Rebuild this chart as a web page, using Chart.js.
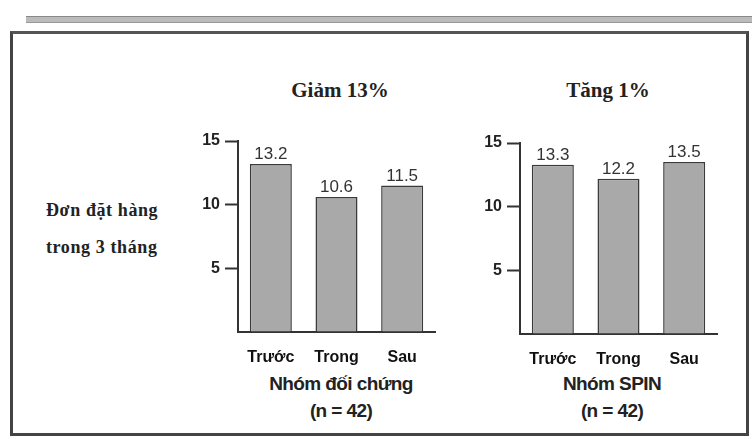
<!DOCTYPE html>
<html lang="vi">
<head>
<meta charset="UTF-8">
<title>Đơn đặt hàng trong 3 tháng</title>
<script src="https://cdn.jsdelivr.net/npm/chart.js"></script>
<style>
  html, body { margin: 0; padding: 0; background: #fff; }
  body { width: 752px; height: 439px; position: relative; overflow: hidden; font-family: "Liberation Serif", serif; color: #222; }
  .stripe { position: absolute; left: 26px; top: 16px; width: 726px; height: 5px; background: #bbb; border-top: 1px solid #888; border-bottom: 1px solid #999; }
  .frame { position: absolute; left: 10px; top: 31px; width: 733px; height: 399px; border: 3px solid #444; border-top-color: #555; }
  .txt { position: absolute; white-space: nowrap; transform: translate(-50%, -50%); }
  .title { font: bold 21px "Liberation Serif", serif; }
  .ylab { font: bold 18px "Liberation Serif", serif; transform: translateY(-50%); letter-spacing: 0.6px; }
  .grp { font: bold 19px "Liberation Sans Narrow", "Liberation Sans", sans-serif; letter-spacing: -0.6px; }
  canvas { position: absolute; }
</style>
</head>
<body>
<div class="stripe"></div>
<div class="frame"></div>

<div class="txt title" style="left:340px; top:90px;">Giảm 13%</div>
<div class="txt title" style="left:608px; top:90px;">Tăng 1%</div>

<div class="txt ylab" style="left:46px; top:210px;">Đơn đặt hàng</div>
<div class="txt ylab" style="left:46px; top:247px;">trong 3 tháng</div>

<div class="txt grp" style="left:341px; top:384px;">Nhóm đối chứng</div>
<div class="txt grp" style="left:341px; top:411px;">(n = 42)</div>
<div class="txt grp" style="left:612px; top:384px;">Nhóm SPIN</div>
<div class="txt grp" style="left:612px; top:411px;">(n = 42)</div>

<canvas id="chartLeft" width="265" height="260" style="left:184px; top:121px;"></canvas>
<canvas id="chartRight" width="265" height="260" style="left:466px; top:123px;"></canvas>

<script>
// data
const periods = ['Trước', 'Trong', 'Sau'];
const controlGroup = [13.2, 10.6, 11.5];
const spinGroup = [13.3, 12.2, 13.5];
const yTicks = [5, 10, 15];

// value above each bar
const barValues = {
    id: 'barValues',
    afterDatasetsDraw(chart) {
        const ctx = chart.ctx;
        const meta = chart.getDatasetMeta(0);
        ctx.save();
        ctx.font = '17px "Liberation Sans", sans-serif';
        ctx.fillStyle = '#333';
        ctx.textAlign = 'center';
        ctx.textBaseline = 'bottom';
        meta.data.forEach((bar, i) => {
            const v = chart.data.datasets[0].data[i];
            ctx.fillText(v.toFixed(1), bar.x, bar.y - 1);
        });
        ctx.restore();
    }
};

function makeChart(id, values) {
    return new Chart(document.getElementById(id), {
        type: 'bar',
        data: {
            labels: periods,
            datasets: [{
                data: values,
                backgroundColor: '#a9a9a9',
                borderColor: '#3a3a3a',
                borderWidth: 1.5,
                borderSkipped: 'bottom',
                categoryPercentage: 1,
                barPercentage: 0.64
            }]
        },
        options: {
            responsive: false,
            animation: false,
            layout: { padding: { top: 20, right: 14, left: 0, bottom: 0 } },
            plugins: { legend: { display: false }, tooltip: { enabled: false } },
            scales: {
                x: {
                    afterFit(scale) { scale.height = 49; },
                    grid: { display: false },
                    border: { color: '#333', width: 2 },
                    ticks: {
                        padding: 8,
                        color: '#111',
                        font: { family: '"Liberation Sans Narrow", "Liberation Sans", sans-serif', weight: 'bold', size: 16 }
                    }
                },
                y: {
                    min: 0,
                    max: 15,
                    afterFit(scale) { scale.width = 54; },
                    afterBuildTicks(scale) {
                        scale.ticks = [0].concat(yTicks).map(v => ({ value: v }));
                    },
                    grid: {
                        drawOnChartArea: false,
                        tickLength: 13,
                        tickWidth: 2,
                        tickColor: ctx => ctx.tick && ctx.tick.value === 0 ? 'rgba(0,0,0,0)' : '#333'
                    },
                    border: { color: '#333', width: 2 },
                    ticks: {
                        padding: 5,
                        color: '#222',
                        font: { family: '"Liberation Sans", sans-serif', weight: 'bold', size: 16 },
                        callback: v => v === 0 ? '' : v
                    }
                }
            }
        },
        plugins: [barValues]
    });
}

makeChart('chartLeft', controlGroup);
makeChart('chartRight', spinGroup);
</script>
</body>
</html>
